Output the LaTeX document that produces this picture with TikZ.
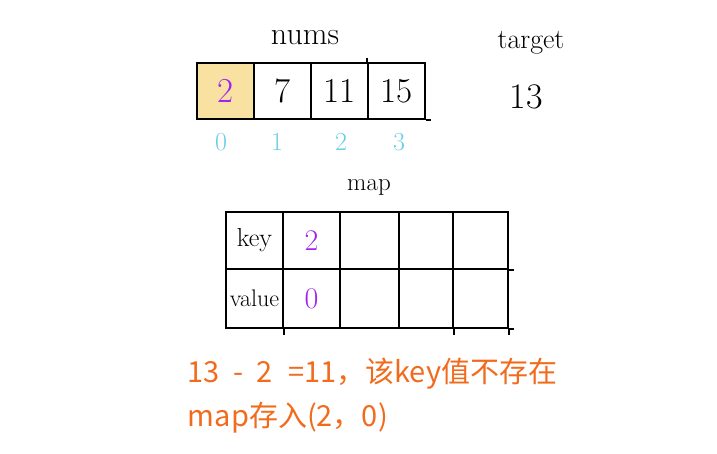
\documentclass[tikz,border=0pt]{standalone}
\usepackage{fontspec}
\newfontfamily\cjk{Noto Sans CJK SC}
\definecolor{hlyellow}{HTML}{F9E1A2}
\definecolor{numpurple}{HTML}{A024F0}
\definecolor{idxcyan}{HTML}{6ACDE6}
\definecolor{noteorange}{HTML}{F26B1D}
\newcommand{\fs}[1]{\fontsize{#1}{#1}\selectfont}
\begin{document}
\begin{tikzpicture}[x=1pt,y=-1pt,line width=1.8pt,
  numcell/.style={draw=black,minimum width=57pt,minimum height=56pt,inner sep=0pt,font=\fs{35}},
  mapcell/.style={draw=black,minimum height=57pt,inner sep=0pt},
  idx/.style={text=idxcyan,font=\fs{26}},
  title/.style={font=\fs{28}},
  note/.style={text=noteorange,font=\cjk\fs{29},anchor=west,inner sep=0pt}]
\useasboundingbox (0,0) rectangle (717,454);
% nums array
\node[title,font=\fs{32}] (numsl) at (305,38) {nums};
\node[numcell,fill=hlyellow,text=numpurple] (n0) at (225.5,91) {2};
\node[numcell] (n1) at (282.5,91) {7};
\node[numcell] (n2) at (339.5,91) {11};
\node[numcell] (n3) at (396.5,91) {15};
\draw (n3.south east) -- ++(5,0);
\draw (n3.north west) -- ++(0,-4);
% indices
\node[idx] (i0) at (221,142) {0};
\node[idx] (i1) at (277,142) {1};
\node[idx] (i2) at (341,142) {2};
\node[idx] (i3) at (399,142) {3};
% target
\node[title] (tgl) at (531,43) {target};
\node[font=\fs{36}] (tgv) at (526,97) {13};
% map
\node[title,font=\fs{25}] (mapl) at (369,187) {map};
\node[mapcell,minimum width=57pt,font=\fs{26}] (k0) at (254.5,240.5) {key};
\node[mapcell,minimum width=57pt,text=numpurple,font=\fs{30}] (k1) at (311.5,240.5) {2};
\node[mapcell,minimum width=59pt] (k2) at (369.5,240.5) {};
\node[mapcell,minimum width=54pt] (k3) at (426,240.5) {};
\node[mapcell,minimum width=55pt] (k4) at (480.5,240.5) {};
\node[mapcell,minimum width=57pt,minimum height=59pt,font=\fs{24}] (v0) at (254.5,298.5) {value};
\node[mapcell,minimum width=57pt,minimum height=59pt,text=numpurple,font=\fs{30}] (v1) at (311.5,298.5) {0};
\node[mapcell,minimum width=59pt,minimum height=59pt] (v2) at (369.5,298.5) {};
\node[mapcell,minimum width=54pt,minimum height=59pt] (v3) at (426,298.5) {};
\node[mapcell,minimum width=55pt,minimum height=59pt] (v4) at (480.5,298.5) {};
\draw (k4.south east) -- ++(5,0);
\draw (v4.south east) -- ++(5,0);
\draw (v0.south east) -- ++(0,6);
\draw (v3.south east) -- ++(0,6);
\draw (v4.south east) -- ++(0,6);
% note
\node[note] (note1) at (187,374) {13\hspace{13pt}-\hspace{13pt}2\hspace{16pt}=11，该key值不存在};
\node[note] (note2) at (187,418) {map存入(2，0)};
\end{tikzpicture}
\end{document}
